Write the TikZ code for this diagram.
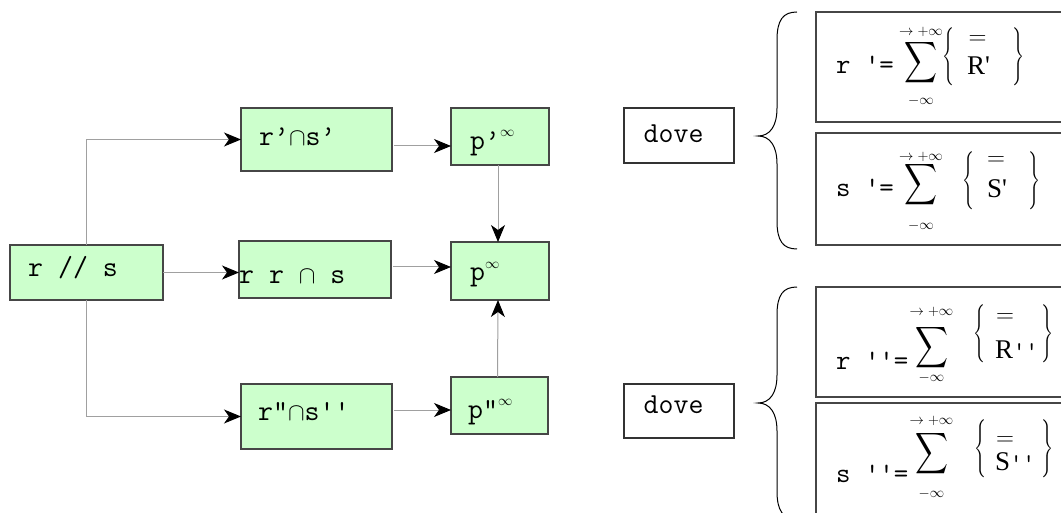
\documentclass[tikz,border=0pt]{standalone}
\usepackage{fontspec}
\usepackage{amsmath}
\usepackage{graphicx}
\usetikzlibrary{arrows.meta}
\newfontfamily\seriffont{Liberation Serif}
\definecolor{boxgreen}{RGB}{204,255,204}
\definecolor{linegray}{RGB}{160,160,160}
\definecolor{edgegray}{RGB}{70,70,70}

\newcommand\sq{\textquotesingle}
\newcommand\dq{\textquotedbl}
% raised infinity after a label
\newcommand\supinf{\raisebox{13pt}{\fontsize{15}{15}\selectfont$\infty$}}

% summation sign with its limits: name, x, y of sign, y of upper and lower limit
\newcommand\sumat[5]{%
  \node[inner sep=0pt] (#1-sum) at (#2,#3) {\resizebox*{33pt}{46pt}{$\displaystyle\sum$}};
  \node[lim] (#1-up) at (#2,#4) {$\rightarrow{+}\infty$};
  \node[lim] (#1-lo) at (#2,#5) {$-\infty$};}
% curly bracket pair: name, x of left, x of right, y centre
\newcommand\bracesat[4]{%
  \node[inner sep=0pt] (#1-bl) at (#2,#4) {\resizebox*{12pt}{58pt}{$\Bigg\{$}};
  \node[inner sep=0pt] (#1-br) at (#3,#4) {\resizebox*{12pt}{58pt}{$\Bigg\}$}};}

\begin{document}
\begin{tikzpicture}[x=1pt,y=-1pt,
  gbox/.style={draw=edgegray, fill=boxgreen, line width=1.3pt, inner sep=0pt, outer sep=0pt},
  wbox/.style={draw=black!80, fill=white, line width=1.1pt, inner sep=0pt, outer sep=0pt},
  fbox/.style={draw=edgegray, fill=white, line width=1.3pt, inner sep=0pt, outer sep=0pt},
  lbl/.style={anchor=base west, inner sep=0pt, font=\ttfamily\fontsize{29}{32}\selectfont},
  ftt/.style={anchor=base west, inner sep=0pt, font=\ttfamily\fontsize{28}{30}\selectfont},
  lim/.style={inner sep=0pt, font=\fontsize{14}{14}\selectfont},
  eqs/.style={inner sep=0pt, font=\fontsize{28}{28}\selectfont},
  big/.style={anchor=base west, inner sep=0pt, font=\seriffont\fontsize{27}{27}\selectfont},
  conn/.style={draw=linegray, line width=1pt, -{Stealth[length=17pt,width=14pt,inset=5pt,black]}},
  curly/.style={draw=black, line width=1pt}]
\useasboundingbox (0,0) rectangle (1061,513);
\clip (0,0) rectangle (1061,513);

% flow boxes
\node[gbox, minimum width=153pt, minimum height=55pt] (A)  at (86.5,272.5) {};
\node[gbox, minimum width=151pt, minimum height=63pt] (B)  at (316.5,139.5) {};
\node[gbox, minimum width=152pt, minimum height=57pt] (C)  at (315,269.5) {};
\node[gbox, minimum width=151pt, minimum height=65pt] (D)  at (316.5,416.5) {};
\node[gbox, minimum width=98pt,  minimum height=57pt] (P1) at (500,136.5) {};
\node[gbox, minimum width=98pt,  minimum height=58pt] (P)  at (500,271) {};
\node[gbox, minimum width=97pt,  minimum height=57pt] (P2) at (499.5,405.5) {};

% box labels
\node[lbl] (tA)  at (28,277)    {r // s};
\node[lbl] (tB)  at (259,145.5) {r’$\cap$s’};
\node[lbl] (tC)  at (239,284)   {r r $\cap$ s};
\node[lbl] (tD)  at (258,420)   {r\dq$\cap$s\sq\sq};
\node[lbl] (tP1) at (470,150)   {p’\supinf};
\node[lbl] (tP)  at (470,281)   {p\supinf};
\node[lbl] (tP2) at (468,418)   {p\dq\supinf};

% connectors
\draw[conn] (A.north) |- (B.west);
\draw[conn] (A.east) -- (A.east -| C.west);
\draw[conn] (A.south) |- (D.west);
\draw[conn] ([xshift=2pt,yshift=-6.5pt]B.east) -- ([yshift=-6.5pt]B.east -| P1.west);
\draw[conn] ([xshift=2pt,yshift=2.5pt]C.east) -- ([yshift=2.5pt]C.east -| P.west);
\draw[conn] ([xshift=2pt,yshift=6.5pt]D.east) -- ([yshift=6.5pt]D.east -| P.west);
\draw[conn] ([xshift=-2pt]P1.south) -- ([xshift=-2pt]P.north);
\draw[conn] ([xshift=-2pt]P2.north) -- ([xshift=-2pt]P.south);

% "dove" boxes
\node[wbox, minimum width=110pt, minimum height=55pt] (V1) at (679,135.5) {};
\node[wbox, minimum width=110pt, minimum height=54pt] (V2) at (679,411) {};
\node[lbl] (tV1) at (643.5,143) {dove};
\node[lbl] (tV2) at (643.5,413) {dove};

% curly brackets
\draw[curly] (797,12) .. controls (783,12) and (777,20) .. (777,40) -- (777,108)
  .. controls (777,126) and (770,136) .. (758,136)
  .. controls (770,136) and (777,146) .. (777,164) -- (777,221)
  .. controls (777,241) and (783,249) .. (797,249);
\draw[curly] (797,287) .. controls (783,287) and (777,295) .. (777,315) -- (777,375)
  .. controls (777,393) and (770,403) .. (758,403)
  .. controls (770,403) and (777,413) .. (777,431) -- (777,491)
  .. controls (777,511) and (783,519) .. (797,519);

% formula boxes
\node[fbox, minimum width=264pt, minimum height=110pt] (F1) at (948,67) {};
\node[fbox, minimum width=264pt, minimum height=112pt] (F2) at (948,189) {};
\node[fbox, minimum width=264pt, minimum height=110pt] (F3) at (948,342) {};
\node[fbox, minimum width=264pt, minimum height=127pt] (F4) at (948,466.5) {};

% r' formula
\node[ftt] (F1-t) at (836,74) {r \sq=};
\sumat{F1}{921}{62.5}{32}{101}
\bracesat{F1}{948}{1018.5}{57}
\node[eqs] (F1-eq) at (977.5,40) {$=$};
\node[big] (F1-R) at (967,75) {R\sq};

% s' formula
\node[ftt] (F2-t) at (836,197) {s \sq=};
\sumat{F2}{921}{184.5}{157}{226}
\bracesat{F2}{968.5}{1034}{180.5}
\node[eqs] (F2-eq) at (996,161.5) {$=$};
\node[big] (F2-S) at (987,198) {S\sq};

% r'' formula
\node[ftt] (F3-t) at (836,370) {r \sq\sq=};
\sumat{F3}{931.5}{347.5}{312}{378}
\bracesat{F3}{979}{1047}{334}
\node[eqs] (F3-eq) at (1005,318.5) {$=$};
\node[big] (F3-R) at (995,358) {R{\ttfamily\fontsize{24}{24}\selectfont\sq\sq}};

% s'' formula
\node[ftt] (F4-t) at (836,482) {s \sq\sq=};
\sumat{F4}{931.5}{454}{420.5}{494}
\bracesat{F4}{980}{1047}{449}
\node[eqs] (F4-eq) at (1005,441.5) {$=$};
\node[big] (F4-S) at (995,470) {S{\ttfamily\fontsize{24}{24}\selectfont\sq\sq}};
\end{tikzpicture}
\end{document}
